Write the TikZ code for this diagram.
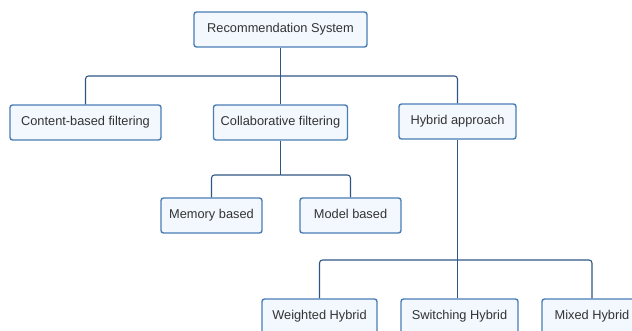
\documentclass[tikz,border=0pt]{standalone}
\usepackage{fontspec}
\setmainfont{Liberation Sans}
\begin{document}
\begin{tikzpicture}[x=1pt,y=-1pt,
  box/.style={draw=boxedge,fill=boxfill,line width=1.4pt,rounded corners=2.5pt,
    minimum height=35pt,inner sep=0pt,text height=9.3pt,text depth=2.7pt,
    text=textgray,font=\fontsize{12.8}{15}\selectfont},
  link/.style={draw=linkblue,line width=1.1pt,rounded corners=3pt}]
\definecolor{boxedge}{HTML}{4A7DB3}
\definecolor{boxfill}{HTML}{F3F8FE}
\definecolor{linkblue}{HTML}{2E5684}
\definecolor{textgray}{HTML}{333333}
\useasboundingbox (0,0) rectangle (632,330);
\clip (0,0) rectangle (632,330);
% nodes
\node[box,minimum width=173pt] (root) at (280.5,29.5) {Recommendation System};
\node[box,minimum width=151pt] (cbf) at (85.5,122.5) {Content-based filtering};
\node[box,minimum width=134pt] (cf) at (280.5,122.5) {Collaborative filtering};
\node[box,minimum width=117pt] (hyb) at (457.5,121.5) {Hybrid approach};
\node[box,minimum width=101pt] (mem) at (211.5,215.5) {Memory based};
\node[box,minimum width=101pt] (mod) at (350.5,215.5) {Model based};
\node[box,minimum width=115pt] (wh) at (319.5,316.5) {Weighted Hybrid};
\node[box,minimum width=117pt] (sh) at (459.5,316.5) {Switching Hybrid};
\node[box,minimum width=100pt] (mh) at (592,316.5) {Mixed Hybrid};
% connectors
\coordinate (j1) at (280.5,76);
\coordinate (j2) at (280.5,175);
\coordinate (j3) at (457.5,260);
\draw[link] (root.south) -- (j1);
\draw[link] (j1) -| (cbf.north);
\draw[link] (j1) -| (hyb.north);
\draw[link] (j1) -- (cf.north);
\draw[link] (cf.south) -- (j2);
\draw[link] (j2) -| (mem.north);
\draw[link] (j2) -| (mod.north);
\draw[link] (hyb.south) -- (j3);
\draw[link] (j3) -| (wh.north);
\draw[link] (j3) -| (mh.north);
\draw[link] (j3) -- (j3 |- sh.north);
\end{tikzpicture}
\end{document}
